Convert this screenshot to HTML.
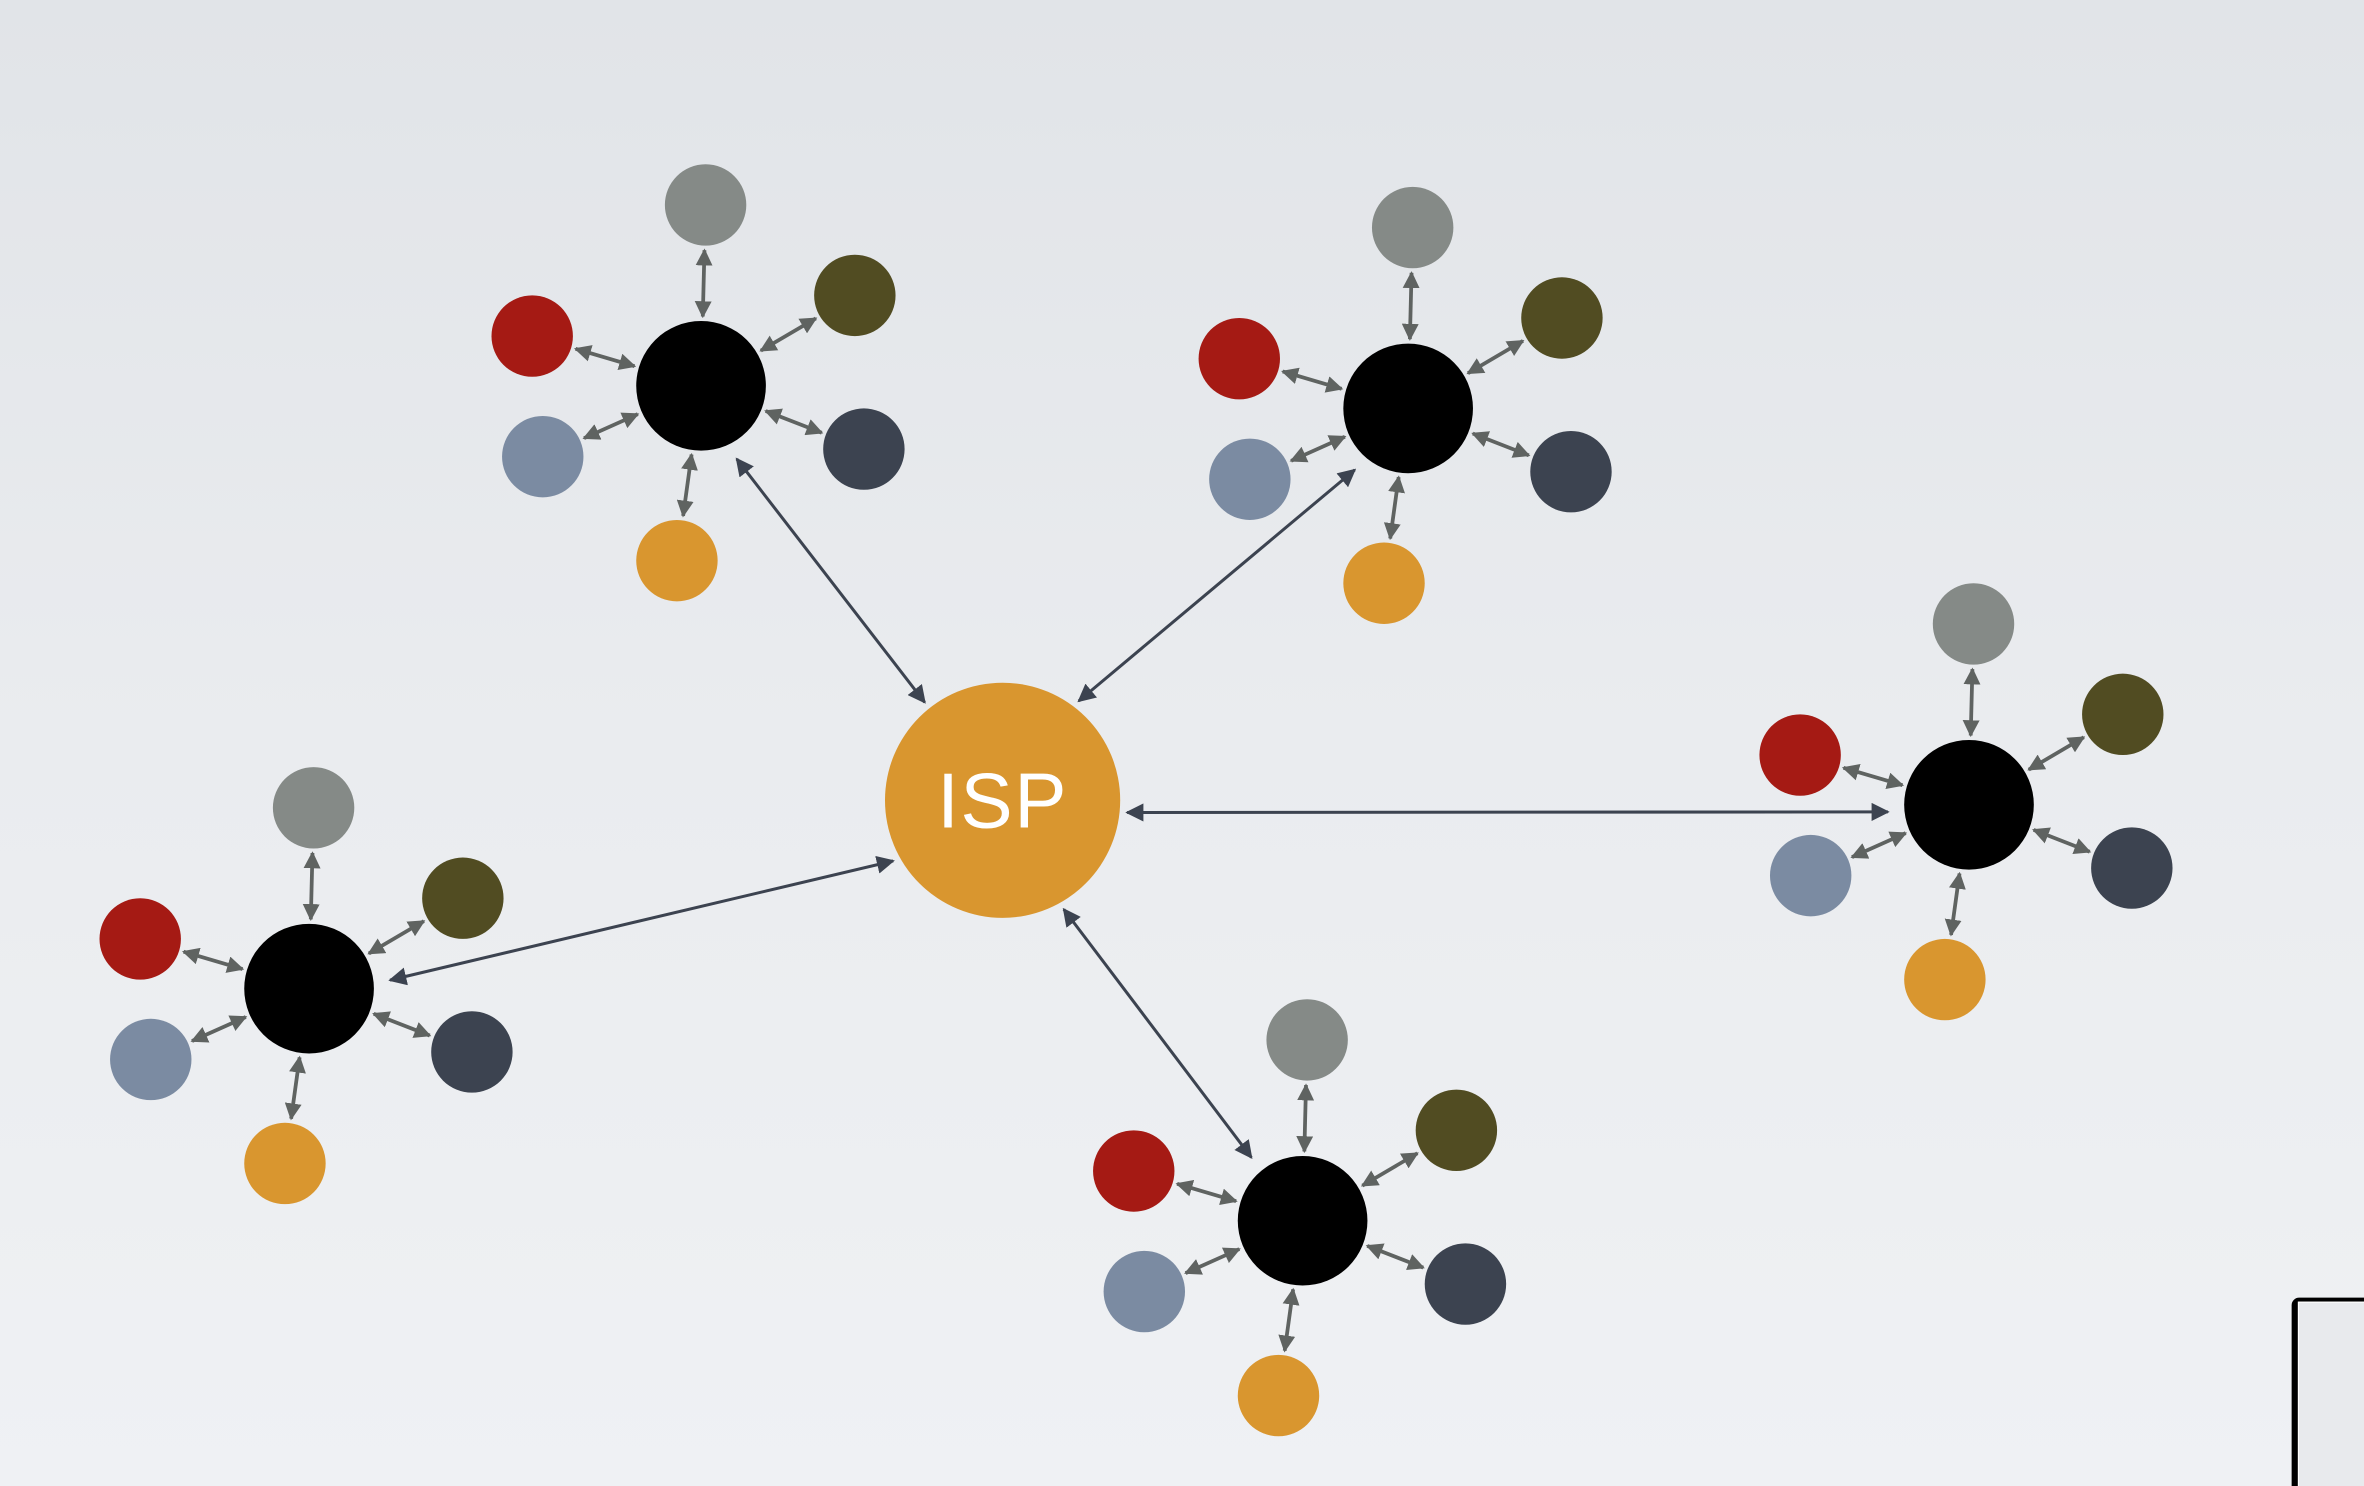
<!DOCTYPE html>
<html><head><meta charset="utf-8"><style>
html,body{margin:0;padding:0;width:2364px;height:1486px;overflow:hidden;}
body{background:linear-gradient(180deg,#e1e4e8 0%,#eaecef 50%,#eff1f4 100%);}
svg{display:block;overflow:hidden;}
</style></head><body>
<svg id="net" width="2364" height="1486" viewBox="0 0 1568 986" preserveAspectRatio="none" xmlns="http://www.w3.org/2000/svg">
<defs>
<marker id="ah" viewBox="0 0 10 10" refX="9" refY="5" markerWidth="4.5" markerHeight="4.5" orient="auto-start-reverse"><path d="M0,0 L10,5 L0,10 z" fill="#5f6361"/></marker>
<marker id="ahd" viewBox="0 0 10 10" refX="9" refY="5" markerWidth="6" markerHeight="6" orient="auto-start-reverse"><path d="M0,0 L10,5 L0,10 z" fill="#3c4350"/></marker>
</defs>
<g id="links"></g>
<g id="clusters"></g>
<circle cx="665" cy="531" r="78" fill="#d9962f"/>
<text x="665" y="549" text-anchor="middle" font-family="Liberation Sans, sans-serif" font-size="52" fill="#ffffff" letter-spacing="1">ISP</text>
<g>
<rect x="1520" y="861" width="80" height="130" rx="5" fill="#000"/>
<rect x="1524.5" y="864" width="80" height="130" fill="#e8eaed" stroke="#ffffff" stroke-width="0.8"/>
</g>
</svg>
<script>
const hubX = [465, 934, 1306, 864, 205];
const hubY = [256, 271, 534, 810, 656];
const hubLinkAngle = [64, 131, 175, -129, -6];
const ispLinkAngle = [-128.5, -52.5, 5.6, 60.7, 151];
const satNames = ['gray', 'olive', 'dark', 'orange', 'blue', 'red'];
const satColors = ['#858a87', '#514c22', '#3c4350', '#d9962f', '#7b8ba2', '#a51a14'];
const satDX = [3, 102, 108, -16, -105, -112];
const satDY = [-120, -60, 42, 116, 47, -33];
const ispX = 665, ispY = 531;
const NS = 'http://www.w3.org/2000/svg';
const links = document.getElementById('links');
const clusters = document.getElementById('clusters');
const HUB_R = 43, SAT_R = 27, ISP_R = 78;
function line(g, x1, y1, x2, y2, c, w, m) {
  const l = document.createElementNS(NS, 'line');
  l.setAttribute('x1', x1); l.setAttribute('y1', y1);
  l.setAttribute('x2', x2); l.setAttribute('y2', y2);
  l.setAttribute('stroke', c); l.setAttribute('stroke-width', w);
  l.setAttribute('marker-start', m); l.setAttribute('marker-end', m);
  g.appendChild(l);
  return l;
}
const rad = a => a * Math.PI / 180;
for (let i = 0; i < hubX.length; i++) {
  const g = document.createElementNS(NS, 'g');
  
  
  clusters.appendChild(g);
  const ha = rad(hubLinkAngle[i]), ia = rad(ispLinkAngle[i]);
  const ll = line(links, hubX[i] + Math.cos(ha) * (HUB_R + 11), hubY[i] + Math.sin(ha) * (HUB_R + 11),
    ispX + Math.cos(ia) * (ISP_R + 5), ispY + Math.sin(ia) * (ISP_R + 5), '#3c4350', 2, 'url(#ahd)');
  
  
  for (let j = 0; j < satDX.length; j++) {
    const sx = hubX[i] + satDX[j], sy = hubY[i] + satDY[j];
    const ex = satDX[j], ey = satDY[j], ed = Math.hypot(ex, ey);
    const vx = ex / ed, vy = ey / ed;
    const sl = line(g, hubX[i] + vx * (HUB_R + 3), hubY[i] + vy * (HUB_R + 3), sx - vx * (SAT_R + 3), sy - vy * (SAT_R + 3), '#5f6361', 2.5, 'url(#ah)');
    
    
    const c = document.createElementNS(NS, 'circle');
    c.setAttribute('cx', sx); c.setAttribute('cy', sy); c.setAttribute('r', SAT_R);
    c.setAttribute('fill', satColors[j]);
    
    
    g.appendChild(c);
  }
  const h = document.createElementNS(NS, 'circle');
  h.setAttribute('cx', hubX[i]); h.setAttribute('cy', hubY[i]); h.setAttribute('r', HUB_R);
  h.setAttribute('fill', '#000');
  
  
  g.appendChild(h);
}
</script>
</body></html>
